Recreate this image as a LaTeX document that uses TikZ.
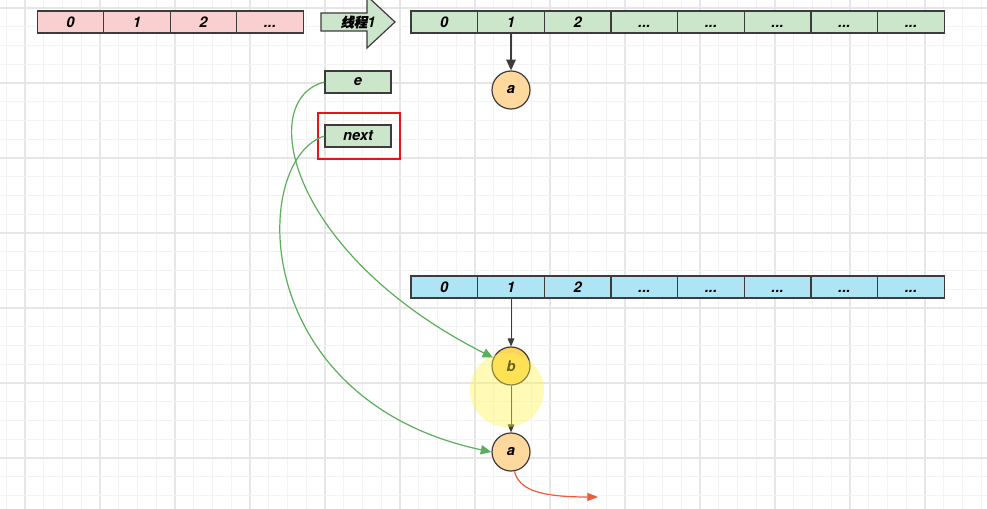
\documentclass[tikz,border=0pt]{standalone}
\usepackage{fontspec}
\setsansfont{TeX Gyre Heros}
\newfontfamily\cjk[FakeSlant=0.2,FakeBold=0.8]{Noto Sans CJK SC}
\usetikzlibrary{arrows.meta,shapes.arrows}
\definecolor{gridminor}{HTML}{F3F3F3}
\definecolor{gridmajor}{HTML}{E6E6E6}
\definecolor{pinkfill}{HTML}{F9CFCF}
\definecolor{greenfill}{HTML}{CBE6CB}
\definecolor{bluefill}{HTML}{AEE4F3}
\definecolor{orangefill}{HTML}{FFD89E}
\definecolor{yellowfill}{HTML}{FFD45C}
\definecolor{strokegray}{HTML}{3C3C3C}
\definecolor{curvegreen}{HTML}{5BAE5B}
\definecolor{redarrow}{HTML}{EE5A3C}
\definecolor{redbox}{HTML}{E8141C}
\begin{document}
\begin{tikzpicture}[x=0.75pt,y=-0.75pt,
  font=\sffamily\bfseries\itshape\fontsize{11}{13}\selectfont,
  cell/.style={draw=strokegray,line width=0.9pt,minimum width=49.95pt,minimum height=16.5pt,inner sep=0pt,text height=7.9pt,text depth=0pt},
  pinkcell/.style={cell,fill=pinkfill},
  greencell/.style={cell,fill=greenfill},
  bluecell/.style={cell,fill=bluefill},
  varbox/.style={draw=strokegray,line width=0.9pt,fill=greenfill,minimum width=49.5pt,minimum height=16.5pt,inner sep=0pt},
  ballnode/.style={circle,draw=strokegray,line width=0.9pt,fill=orangefill,minimum size=28.5pt,inner sep=0pt},
  blackarrow/.style={draw=strokegray,line width=0.75pt,-{Triangle[length=6pt,width=5pt]}},
  thickarrow/.style={draw=strokegray,line width=1.2pt,-{Triangle[length=8pt,width=7pt]}},
  greenarrow/.style={draw=curvegreen,line width=0.9pt,-{Triangle[length=8pt,width=7pt]}},
  redcurve/.style={draw=redarrow,line width=0.9pt,-{Triangle[length=8pt,width=6pt]}}
]
\useasboundingbox (0,0) rectangle (987,509);
\fill[white] (0,0) rectangle (987,509);
% grid
\foreach \i in {0,...,52}{
  \pgfmathsetmacro{\gx}{6.25+18.75*\i}
  \pgfmathtruncatemacro{\m}{mod(\i,4)}
  \ifnum\m=1 \draw[gridmajor,line width=0.9pt] (\gx,0) -- (\gx,509);
  \else \draw[gridminor,line width=0.75pt] (\gx,0) -- (\gx,509); \fi
}
\foreach \j in {0,...,27}{
  \pgfmathsetmacro{\gy}{8+18.75*\j}
  \pgfmathtruncatemacro{\m}{mod(\j,4)}
  \ifnum\m=0 \draw[gridmajor,line width=0.9pt] (0,\gy) -- (987,\gy);
  \else \draw[gridminor,line width=0.75pt] (0,\gy) -- (987,\gy); \fi
}
% pink array
\node[pinkcell] (p0) at (70.5,22) {0};
\node[pinkcell] (p1) at (137,22) {1};
\node[pinkcell] (p2) at (203.5,22) {2};
\node[pinkcell] (p3) at (270,22) {...};
% thread arrow
\fill[greenfill,draw=strokegray,line width=0.9pt] (321,13) -- (367,13) -- (367,-4) -- (395,22) -- (367,48) -- (367,31) -- (321,31) -- cycle;
\node[inner sep=0pt] (thread) at (358,22) {\cjk\fontsize{10}{12}\selectfont 线程\sffamily\bfseries\itshape\fontsize{11}{13}\selectfont 1};
% green array
\node[greencell] (g0) at (444.3,22) {0};
\node[greencell] (g1) at (511,22) {1};
\node[greencell] (g2) at (577.6,22) {2};
\node[greencell] (g3) at (644.3,22) {...};
\node[greencell] (g4) at (711,22) {...};
\node[greencell] (g5) at (777.6,22) {...};
\node[greencell] (g6) at (844.3,22) {...};
\node[greencell] (g7) at (911,22) {...};
% blue array
\node[bluecell] (b0) at (444.3,287) {0};
\node[bluecell] (b1) at (511,287) {1};
\node[bluecell] (b2) at (577.6,287) {2};
\node[bluecell] (b3) at (644.3,287) {...};
\node[bluecell] (b4) at (711,287) {...};
\node[bluecell] (b5) at (777.6,287) {...};
\node[bluecell] (b6) at (844.3,287) {...};
\node[bluecell] (b7) at (911,287) {...};
% variables
\node[varbox] (e) at (358,82) {e};
\node[varbox] (next) at (358,136) {next};
\node[draw=redbox,line width=1.6pt,minimum width=61.5pt,minimum height=34.5pt,inner sep=0pt] (hl) at (359,136) {};
% balls
\node[ballnode] (atop) at (511,90) {a};
\node[ballnode,fill=yellowfill] (bball) at (511,366) {b};
\node[ballnode] (abot) at (511,452) {a};
% connectors
\draw[thickarrow] (g1) -- (atop);
\draw[blackarrow] (b1) -- (bball);
\draw[blackarrow] (bball) -- (abot);
\draw[greenarrow] (e.west) .. controls (255,100) and (290,255) .. (bball.155);
\draw[greenarrow] (next.west) .. controls (250,160) and (248,400) .. (abot.west);
\coordinate (redend) at (598,497);
\draw[redcurve] (abot.-80) .. controls (519,488) and (535,497) .. (redend);
% highlight glow
\fill[yellow!70!white,opacity=0.4] (507,390) circle[radius=37];
\end{tikzpicture}
\end{document}
